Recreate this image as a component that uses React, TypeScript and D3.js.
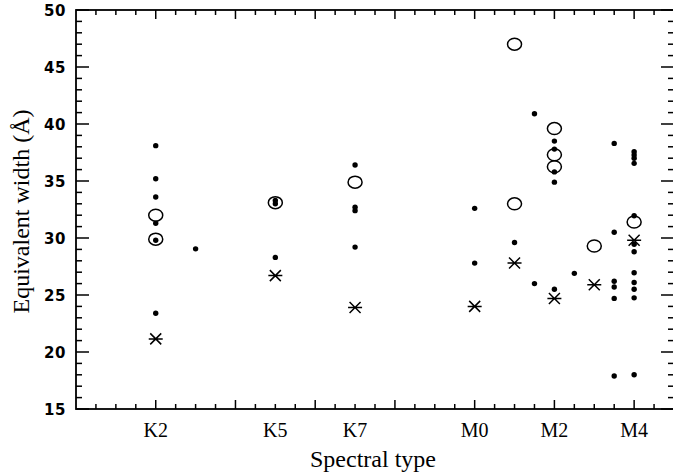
import React from 'react';
import * as d3 from 'd3';

// spectral subclass index: K2=0 ... K7=5, M0=8 ... M4=12
const tickTypes = ['K2', 'K5', 'K7', 'M0', 'M2', 'M4'];
const tickPos = [0, 3, 5, 8, 10, 12];

// small filled dots
const dotX = [0, 0, 0, 0, 0, 0, 1, 3, 3, 3, 5, 5, 5, 5, 8, 8, 9, 9.5, 9.5,
  10, 10, 10, 10, 10, 10.5, 11.5, 11.5, 11.5, 11.5, 11.5, 11.5,
  12, 12, 12, 12, 12, 12, 12, 12, 12, 12, 12, 12];
const dotY = [38.1, 35.2, 33.6, 31.3, 29.8, 23.4, 29.05, 33.3, 33.0, 28.3, 36.4, 32.7, 32.4, 29.2, 32.6, 27.8, 29.6, 40.9, 26.0,
  38.5, 37.8, 35.8, 34.9, 25.5, 26.9, 38.3, 30.5, 26.2, 25.7, 24.7, 17.9,
  37.57, 37.28, 37.0, 36.55, 31.95, 29.45, 28.8, 26.95, 26.1, 25.5, 24.75, 18.0];

// open circles
const ringX = [0, 0, 3, 5, 9, 9, 10, 10, 10, 11, 12];
const ringY = [32.0, 29.9, 33.1, 34.9, 47.0, 33.0, 39.6, 37.3, 36.25, 29.3, 31.4];

// asterisks
const starX = [0, 3, 5, 8, 9, 10, 11, 12];
const starY = [21.15, 26.7, 23.9, 24.0, 27.8, 24.7, 25.9, 29.8];

const W = 673;
const H = 475;
const left = 76, right = 674, top = 10, bottom = 409;

export default function App() {
  const x = d3.scaleLinear().domain([-2, 13]).range([left, right]);
  const y = d3.scaleLinear().domain([15, 50]).range([bottom, top]);

  const xMinor = d3.range(-1.5, 13, 0.5).filter(v => v % 2 !== 0);
  const xMajor = d3.range(0, 13, 2);
  const yMinor = d3.range(16, 50, 1).filter(v => v % 5 !== 0);
  const yMajor = d3.range(15, 51, 5);

  const star = 'M-7,0H7M-5.5,-5.5L5.5,5.5M-5.5,5.5L5.5,-5.5';

  return (
    <svg width={W} height={H} style={{ position: 'absolute', left: 0, top: 0, background: '#fff' }}>
      <g stroke="#000" strokeWidth={1.5} fill="none">
        <rect x={left} y={top} width={right - left} height={bottom - top} strokeWidth={1.8} />
        {xMinor.map(v => (
          <g key={'xm' + v}>
            <line x1={x(v)} x2={x(v)} y1={bottom} y2={bottom - 5} />
            <line x1={x(v)} x2={x(v)} y1={top} y2={top + 5} />
          </g>
        ))}
        {xMajor.map(v => (
          <g key={'xM' + v}>
            <line x1={x(v)} x2={x(v)} y1={bottom} y2={bottom - 9} />
            <line x1={x(v)} x2={x(v)} y1={top} y2={top + 9} />
          </g>
        ))}
        {yMinor.map(v => (
          <g key={'ym' + v}>
            <line x1={left} x2={left + 6} y1={y(v)} y2={y(v)} />
            <line x1={right} x2={right - 6} y1={y(v)} y2={y(v)} />
          </g>
        ))}
        {yMajor.map(v => (
          <g key={'yM' + v}>
            <line x1={left} x2={left + 13} y1={y(v)} y2={y(v)} />
            <line x1={right} x2={right - 13} y1={y(v)} y2={y(v)} />
          </g>
        ))}
      </g>

      {/* y tick labels */}
      <g fontFamily="'DejaVu Sans', sans-serif" fontWeight="bold" fontSize={15} textAnchor="end" letterSpacing={0.6}>
        {yMajor.map(v => (
          <text key={'yl' + v} x={66} y={y(v) + 5.5}>{v}</text>
        ))}
      </g>

      {/* x tick labels */}
      <g fontFamily="'Liberation Serif', 'Times New Roman', serif" fontSize={20} textAnchor="middle">
        {tickTypes.map((t, i) => (
          <text key={t} x={x(tickPos[i])} y={437}>{t}</text>
        ))}
      </g>

      <text x={(left + right) / 2 - 2} y={467} fontFamily="'Liberation Serif', serif" fontSize={24} textAnchor="middle">
        Spectral type
      </text>
      <text transform={`translate(29,${(top + bottom) / 2 + 2}) rotate(-90)`} fontFamily="'Liberation Serif', serif" fontSize={24} textAnchor="middle">
        Equivalent width (Å)
      </text>

      {/* markers */}
      <g fill="none" stroke="#000" strokeWidth={1.5}>
        {ringX.map((v, i) => (
          <ellipse key={'r' + i} cx={x(v)} cy={y(ringY[i])} rx={7} ry={6} />
        ))}
      </g>
      <g fill="#000">
        {dotX.map((v, i) => (
          <circle key={'d' + i} cx={x(v)} cy={y(dotY[i])} r={2.7} />
        ))}
      </g>
      <g fill="none" stroke="#000" strokeWidth={1.5}>
        {starX.map((v, i) => (
          <path key={'s' + i} d={star} transform={`translate(${x(v)},${y(starY[i])})`} />
        ))}
      </g>
    </svg>
  );
}
